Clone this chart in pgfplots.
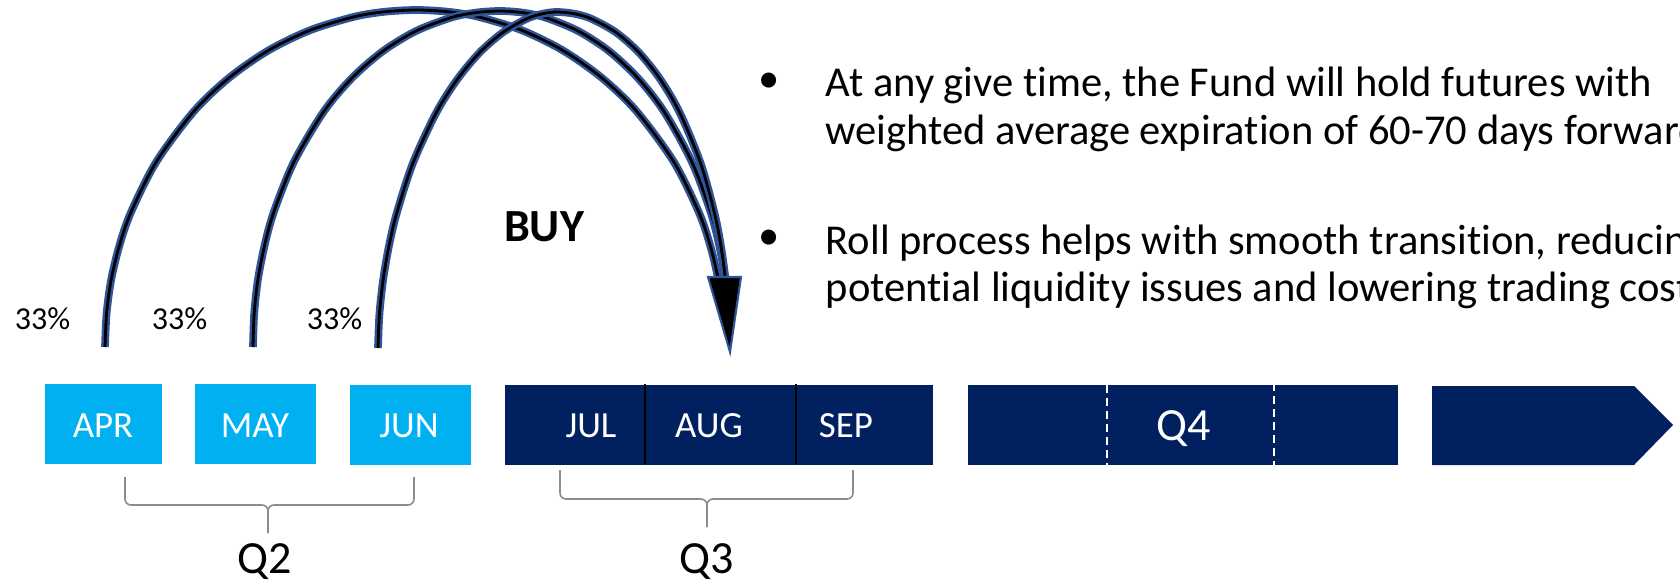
\documentclass[border=0pt]{standalone}
\usepackage{fontspec}
\setmainfont{Carlito}[Ligatures={NoCommon,NoContextual}]
\usepackage{pgfplots}
\pgfplotsset{compat=1.18}
\definecolor{lblue}{HTML}{00B0F0}
\definecolor{navy}{HTML}{002060}
\definecolor{arcblue}{HTML}{2F5597}
\definecolor{brgray}{HTML}{8C8C8C}
\pgfplotstableread{
x y
105 347
106.6 313.3
111.2 279.6
119.3 245.9
131.0 212.2
156.4 161.7
194.1 111.1
229.6 77.4
268.5 50.4
310.2 30.2
354.5 16.7
385.4 11.7
416.5 10
447.3 11.7
477.8 16.7
521.6 30.2
562.8 50.4
601.3 77.4
636.4 111.1
673.7 161.7
698.8 212.2
710.3 245.9
718.3 279.6
723.0 313.3
}\arcapr
\pgfplotstableread{
x y
253 347
254.2 313.4
257.9 279.8
264.4 246.2
273.6 212.6
293.8 162.2
323.6 111.8
351.8 78.2
382.7 51.3
415.7 31.2
450.8 17.7
475.3 12.7
500 11
523.0 12.7
545.8 17.7
578.5 31.2
609.3 51.3
638.0 78.2
664.2 111.8
692.0 162.2
710.8 212.6
719.4 246.2
725.4 279.8
728.9 313.4
}\arcmay
\pgfplotstableread{
x y
378 348
379.4 314.4
383.0 280.8
388.7 247.2
396.6 213.6
412.9 163.2
436.2 112.8
457.4 79.2
479.9 52.3
503.2 32.2
527.0 18.7
542.8 13.7
557 12
574.2 13.7
591.2 18.7
615.7 32.2
638.7 52.3
660.2 79.2
679.8 112.8
700.6 163.2
714.6 213.6
721.1 247.2
725.6 280.8
728.1 314.4
}\arcjun
\begin{document}
\begin{tikzpicture}
\useasboundingbox (0,0) rectangle (16.8cm,5.83cm);
\clip (0,0) rectangle (16.8cm,5.83cm);
\begin{axis}[
  at={(0,0)}, anchor=south west,
  width=16.8cm, height=5.83cm, scale only axis,
  xmin=0, xmax=1680, ymin=0, ymax=583, y dir=reverse,
  hide axis, clip=false,
]
% month boxes
\addplot[draw=none, fill=lblue] coordinates {(45,384) (162,384) (162,464) (45,464)} -- cycle;
\addplot[draw=none, fill=lblue] coordinates {(195,384) (316,384) (316,464) (195,464)} -- cycle;
\addplot[draw=none, fill=lblue] coordinates {(350,385) (471,385) (471,465) (350,465)} -- cycle;
\addplot[draw=none, fill=navy] coordinates {(505,385) (933,385) (933,465) (505,465)} -- cycle;
\addplot[black, line width=0.35pt] coordinates {(645,384) (645,464)};
\addplot[black, line width=0.35pt] coordinates {(796,384) (796,464)};
\addplot[draw=none, fill=navy] coordinates {(968,385) (1398,385) (1398,465) (968,465)} -- cycle;
\addplot[white, line width=0.35pt, dash pattern=on 0.8mm off 0.5mm] coordinates {(1107,385) (1107,465)};
\addplot[white, line width=0.35pt, dash pattern=on 0.8mm off 0.5mm] coordinates {(1274,383) (1274,465)};
\addplot[draw=none, fill=navy] coordinates {(1432,386) (1634,386) (1673,425) (1634,465) (1432,465)} -- cycle;

% braces
\addplot[brgray, line width=0.45pt, rounded corners=0.6mm] coordinates {(125,477) (125,505) (268,505) (268,533)};
\addplot[brgray, line width=0.45pt, rounded corners=0.6mm] coordinates {(414,477) (414,505) (268,505) (268,533)};
\addplot[brgray, line width=0.45pt, rounded corners=0.6mm] coordinates {(560,470) (560,499) (707,499) (707,527)};
\addplot[brgray, line width=0.45pt, rounded corners=0.6mm] coordinates {(853,470) (853,499) (707,499) (707,527)};

% roll arcs (blue outer, black core)
\addplot[arcblue, line width=2.2pt, smooth] table {\arcapr};
\addplot[black, line width=0.8pt, smooth] table {\arcapr};
\addplot[arcblue, line width=2.2pt, smooth] table {\arcmay};
\addplot[black, line width=0.8pt, smooth] table {\arcmay};
\addplot[arcblue, line width=2.2pt, smooth] table {\arcjun};
\addplot[black, line width=0.8pt, smooth] table {\arcjun};
% arrow head
\addplot[fill=black, draw=arcblue, line width=0.6pt] coordinates {(708,277) (741,277) (730,352)} -- cycle;

% texts
\node[inner sep=0pt, anchor=base, font=\fontsize{9.1}{11}\selectfont] at (axis cs:42.5,329) {33\%};
\node[inner sep=0pt, anchor=base, font=\fontsize{9.1}{11}\selectfont] at (axis cs:179.5,329) {33\%};
\node[inner sep=0pt, anchor=base, font=\fontsize{9.1}{11}\selectfont] at (axis cs:334.5,329) {33\%};
\node[inner sep=0pt, anchor=base, font=\fontsize{13.1}{15}\selectfont\bfseries] at (axis cs:544,242) {BUY};

\node[inner sep=0pt, anchor=base, text=white, font=\fontsize{10.5}{12}\selectfont] at (axis cs:103,437) {APR};
\node[inner sep=0pt, anchor=base, text=white, font=\fontsize{10.5}{12}\selectfont] at (axis cs:255,437) {MAY};
\node[inner sep=0pt, anchor=base, text=white, font=\fontsize{10.5}{12}\selectfont] at (axis cs:409,437) {JUN};
\node[inner sep=0pt, anchor=base, text=white, font=\fontsize{10.5}{12}\selectfont] at (axis cs:591,437) {JUL};
\node[inner sep=0pt, anchor=base, text=white, font=\fontsize{10.5}{12}\selectfont] at (axis cs:709,437) {AUG};
\node[inner sep=0pt, anchor=base, text=white, font=\fontsize{10.5}{12}\selectfont] at (axis cs:846,437) {SEP};
\node[inner sep=0pt, anchor=base, text=white, font=\fontsize{13.1}{15}\selectfont] at (axis cs:1184,440) {Q4};
\node[inner sep=0pt, anchor=base, font=\fontsize{13.1}{15}\selectfont] at (axis cs:265,573) {Q2};
\node[inner sep=0pt, anchor=base, font=\fontsize{13.1}{15}\selectfont] at (axis cs:707,573) {Q3};

\node[inner sep=0pt, anchor=center, font=\fontsize{12.1}{14}\selectfont] at (axis cs:769,83) {•};
\node[inner sep=0pt, anchor=center, font=\fontsize{12.1}{14}\selectfont] at (axis cs:769,240) {•};
\node[inner sep=0pt, anchor=base west, font=\fontsize{12.1}{14}\selectfont] at (axis cs:825,97) {At any give time, the Fund will hold futures with};
\node[inner sep=0pt, anchor=base west, font=\fontsize{12.1}{14}\selectfont] at (axis cs:825,145) {weighted average expiration of 60-70 days forward};
\node[inner sep=0pt, anchor=base west, font=\fontsize{12.1}{14}\selectfont] at (axis cs:825,254) {Roll process helps with smooth transition, reducing};
\node[inner sep=0pt, anchor=base west, font=\fontsize{12.1}{14}\selectfont] at (axis cs:825,302) {potential liquidity issues and lowering trading costs};
\end{axis}
\end{tikzpicture}
\end{document}
